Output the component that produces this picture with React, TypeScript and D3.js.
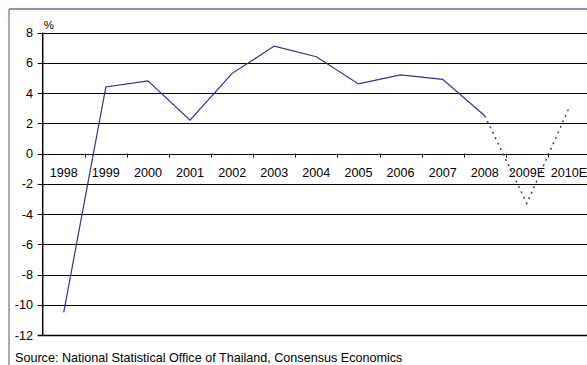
import React from "react";
import * as d3 from "d3";

const categories = ["1998", "1999", "2000", "2001", "2002", "2003", "2004", "2005", "2006", "2007", "2008", "2009E", "2010E"];
const values = [-10.5, 4.4, 4.8, 2.2, 5.3, 7.1, 6.4, 4.6, 5.2, 4.9, 2.5, -3.3, 3.0];
const forecastStart = 10; // index of 2008, dotted afterwards
const yTicks = [8, 6, 4, 2, 0, -2, -4, -6, -8, -10, -12];
const sourceText = "Source: National Statistical Office of Thailand, Consensus Economics";

export default function App() {
  const W = 587, H = 365;
  const left = 42.7, top = 32.5, bottom = 335;
  const bandW = 42.1;
  const x = d3.scaleBand<string>().domain(categories).range([left, left + bandW * categories.length]).padding(0);
  const y = d3.scaleLinear().domain([-12, 8]).range([bottom, top]);
  const cx = (i: number) => (x(categories[i]) as number) + x.bandwidth() / 2;
  const pts = values.map((v, i) => [cx(i), y(v)] as [number, number]);
  const solid = d3.line()(pts.slice(0, forecastStart + 1)) as string;
  const dotted = d3.line()(pts.slice(forecastStart)) as string;
  const font = "'Liberation Sans', Arial, sans-serif";
  const navy = "#2e3192";
  const fs = 12.6;
  return (
    <svg width={W} height={H} style={{ position: "absolute", left: 0, top: 0, display: "block" }}>
      <rect x={0} y={0} width={W} height={H} fill="#fff" />
      <line x1={9} x2={W} y1={9} y2={9} stroke="#1f2a5c" strokeWidth={1} />
      <line x1={9} x2={9} y1={9} y2={H} stroke="#7f8fb5" strokeWidth={1.5} />
      {yTicks.map((t) => (
        <g key={t}>
          <line x1={left - 5} x2={W} y1={Math.round(y(t)) + 0.5} y2={Math.round(y(t)) + 0.5} stroke="#000" strokeWidth={t === -12 ? 1.5 : 1} />
          <text x={33} y={y(t) + 4.6} textAnchor="end" fontFamily={font} fontSize={fs} fill="#000">{t}</text>
        </g>
      ))}
      <line x1={left} x2={left} y1={top} y2={bottom} stroke="#000" strokeWidth={1.5} />
      {categories.map((c, i) => (
        <g key={c}>
          {i > 0 && (
            <line x1={Math.round(x(c) as number) + 0.5} x2={Math.round(x(c) as number) + 0.5} y1={y(0)} y2={y(0) + 4} stroke="#000" strokeWidth={1} />
          )}
          <text x={cx(i)} y={y(0) + 23.5} textAnchor="middle" fontFamily={font} fontSize={fs} fill="#000">{c}</text>
        </g>
      ))}
      <text x={left + 1} y={29} fontFamily={font} fontSize={11.5} fill="#000">%</text>
      <path d={solid} fill="none" stroke={navy} strokeWidth={1.2} />
      <path d={dotted} fill="none" stroke={navy} strokeWidth={1.4} strokeDasharray="2,4" />
      <text x={15} y={361.5} fontFamily={font} fontSize={fs} fill="#000">{sourceText}</text>
    </svg>
  );
}
